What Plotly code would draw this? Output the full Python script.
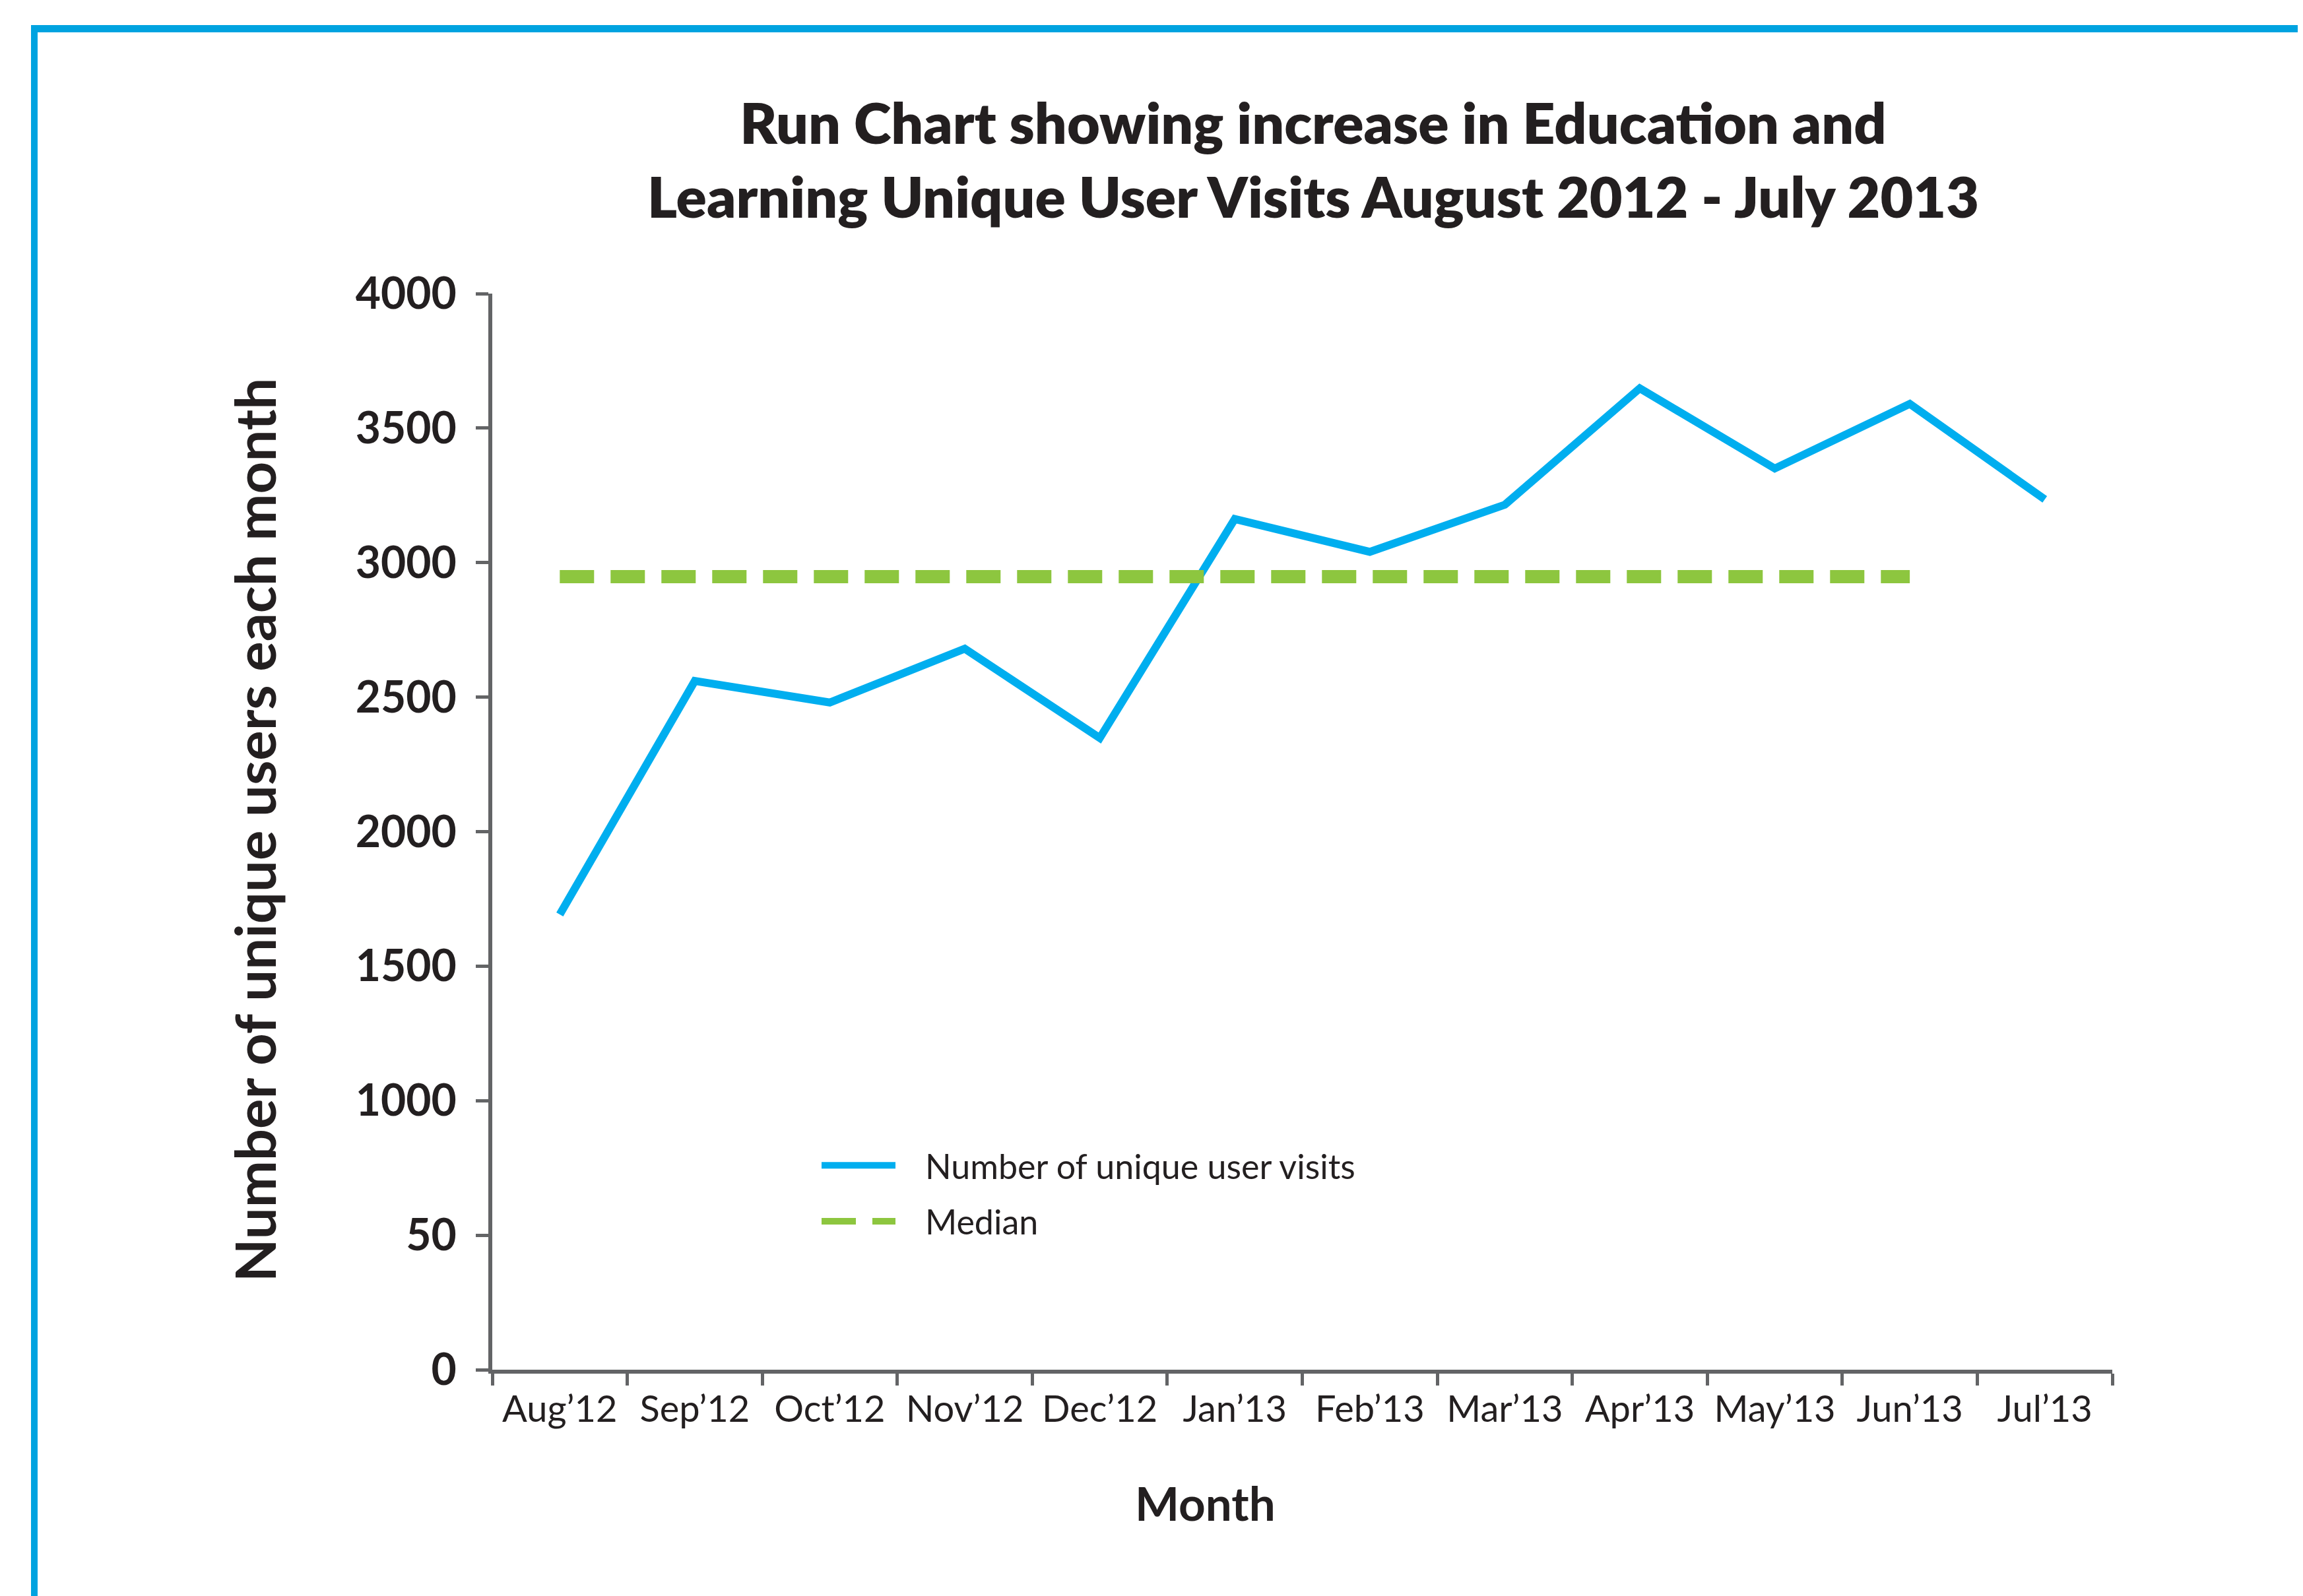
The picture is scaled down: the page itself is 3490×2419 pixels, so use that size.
import plotly.graph_objects as go

# ---- data ----
months = ["Aug’12", "Sep’12", "Oct’12", "Nov’12", "Dec’12", "Jan’13",
          "Feb’13", "Mar’13", "Apr’13", "May’13", "Jun’13", "Jul’13"]
visits = [1692, 2560, 2480, 2680, 2348, 3162, 3040, 3215, 3648, 3350, 3590, 3235]
median_months = months[:11]
median_values = [2948, 2948, 2948, 2948, 2948, 2948, 2948, 2948, 2948, 2948, 2948]
y_tickvals = [0, 500, 1000, 1500, 2000, 2500, 3000, 3500, 4000]
y_ticktext = ["0", "50", "1000", "1500", "2000", "2500", "3000", "3500", "4000"]

TEXT = "#231F20"
AXIS = "#636466"
BLUE = "#00AEEF"
GREEN = "#8DC63F"
FRAME = "#00A3E0"
FONT = "Lato"
GAP = "\u00a0\u00a0\u00a0"

fig = go.Figure()
fig.add_trace(go.Scatter(
    x=months, y=visits, mode="lines", name=GAP + "Number of unique user visits",
    line=dict(color=BLUE, width=12), legendgroup="a"))
fig.add_trace(go.Scatter(
    x=median_months, y=median_values, mode="lines", name=GAP + "Median",
    line=dict(color=GREEN, width=20, dash="52px,25px"), legendgroup="b"))

# plot area geometry (pixels) used for paper conversions
W, H = 3490, 2419
L, R, T, B = 738, 297, 437, 351
pw, ph = W - L - R, H - T - B
def px(xp):
    return (xp - L) / pw
def py(yp):
    return (H - B - yp) / ph

fig.update_layout(
    width=W, height=H, autosize=False,
    margin=dict(l=L, r=R, t=T, b=B, pad=0),
    paper_bgcolor="white", plot_bgcolor="white",
    font=dict(family=FONT, color=TEXT),
    title=dict(
        text="Run Chart showing increase in Education and<br>Learning Unique User Visits August 2012 - July 2013",
        font=dict(family=FONT, size=86, color=TEXT, weight=800),
        xref="paper", x=px(1982), xanchor="center",
        yref="container", y=1 - 210 / H, yanchor="top"),
    xaxis=dict(
        type="category", range=[-0.5, 11.5], tickson="boundaries",
        ticks="outside", ticklen=18, tickwidth=5, tickcolor=AXIS,
        showline=True, linecolor=AXIS, linewidth=6,
        showgrid=False, zeroline=False, ticklabelstandoff=6,
        tickfont=dict(family=FONT, size=56, color=TEXT)),
    yaxis=dict(
        range=[0, 4000], tickmode="array", tickvals=y_tickvals, ticktext=y_ticktext,
        ticks="outside", ticklen=19, tickwidth=5, tickcolor=AXIS,
        showline=True, linecolor=AXIS, linewidth=6,
        showgrid=False, zeroline=False, ticklabelstandoff=16,
        tickfont=dict(family=FONT, size=66, color=TEXT, weight="bold")),
    legend=dict(
        x=px(1232), y=py(1718), xanchor="left", yanchor="top",
        bgcolor="rgba(0,0,0,0)", borderwidth=0,
        font=dict(family=FONT, size=52, color=TEXT),
        itemwidth=112, tracegroupgap=14),
    showlegend=True,
    annotations=[
        dict(text="<b>Number of unique users each month</b>", textangle=-90,
             xref="paper", yref="paper", x=px(377), y=py(1250),
             xanchor="center", yanchor="middle", showarrow=False,
             font=dict(family=FONT, size=85, color=TEXT)),
        dict(text="<b>Month</b>",
             xref="paper", yref="paper", x=px(1818), y=py(2269),
             xanchor="center", yanchor="middle", showarrow=False,
             font=dict(family=FONT, size=71, color=TEXT)),
    ],
    shapes=[
        dict(type="line", xref="paper", yref="paper",
             x0=px(39), x1=px(W + 20), y0=py(35.5), y1=py(35.5),
             line=dict(color=FRAME, width=11)),
        dict(type="line", xref="paper", yref="paper",
             x0=px(44), x1=px(44), y0=py(30), y1=py(H + 20),
             line=dict(color=FRAME, width=10)),
    ],
)

fig.write_html("out.html")
